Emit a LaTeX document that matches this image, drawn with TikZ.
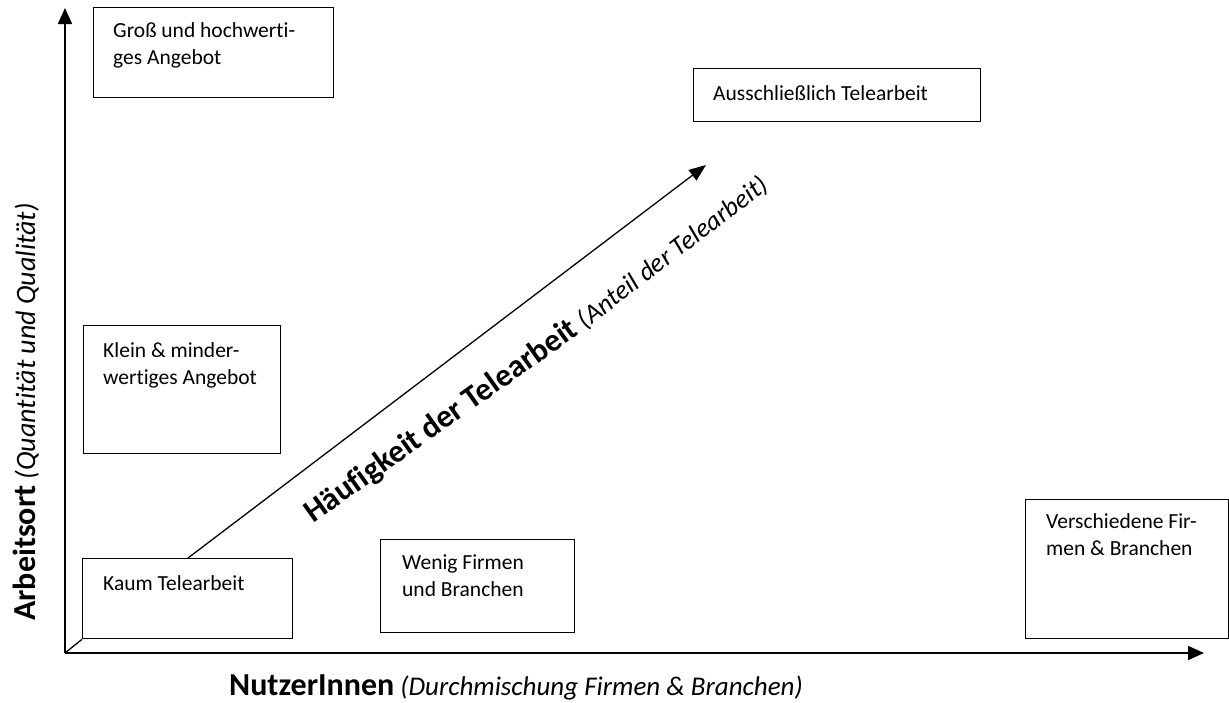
\documentclass[tikz,border=0pt]{standalone}
\usepackage{fontspec}
\setmainfont{Carlito}[Ligatures=CommonOff]
\usetikzlibrary{arrows.meta,calc}
\begin{document}
\begin{tikzpicture}[x=1pt,y=-1pt,
  box/.style={draw=black,line width=1.3pt,rectangle,inner sep=0pt,anchor=north west},
  boxtext/.style={anchor=base west,inner sep=0pt,font=\fontsize{21.5}{27}\selectfont},
  axis/.style={line width=1.8pt,-{Triangle[length=16pt,width=14pt]}},
  diag/.style={line width=1.3pt,-{Triangle[length=17pt,width=13pt]}}]
\useasboundingbox (0,0) rectangle (1229,702);
% boxes
\node[box,minimum width=240pt,minimum height=90pt] (gross) at (93,7) {};
\node[box,minimum width=287pt,minimum height=53pt] (aus) at (693,68) {};
\node[box,minimum width=197pt,minimum height=128pt] (klein) at (83,325) {};
\node[box,minimum width=210pt,minimum height=80pt] (kaum) at (82,558) {};
\node[box,minimum width=194pt,minimum height=93pt] (wenig) at (380,539) {};
\node[box,minimum width=203pt,minimum height=139pt] (versch) at (1025,499) {};
% box texts
\node[boxtext] (tgross) at (113,37) {\begin{tabular}[t]{@{}l@{}}Groß und hochwerti-\\ges Angebot\end{tabular}};
\node[boxtext] (taus) at (713,100) {Ausschließlich Telearbeit};
\node[boxtext] (tklein) at (103,357) {\begin{tabular}[t]{@{}l@{}}Klein \& minder-\\wertiges Angebot\end{tabular}};
\node[boxtext] (tkaum) at (103,590) {Kaum Telearbeit};
\node[boxtext] (twenig) at (402,569) {\begin{tabular}[t]{@{}l@{}}Wenig Firmen\\und Branchen\end{tabular}};
\node[boxtext] (tversch) at (1046,528) {\begin{tabular}[t]{@{}l@{}}Verschiedene Fir-\\men \& Branchen\end{tabular}};
% axes
\coordinate (O) at (65,653);
\coordinate (ytip) at (65,8);
\coordinate (xtip) at (1204,653);
\draw[axis] (O) -- (ytip);
\draw[axis] (O) -- (xtip);
\draw[line width=1.3pt] (O) -- (kaum.south west);
% diagonal
\coordinate (dstart) at (188,558);
\coordinate (dend) at (706,165);
\draw[diag] (dstart) -- (dend);
\node[anchor=base west,inner sep=0pt,rotate=35.5,font=\fontsize{32}{38}\selectfont\bfseries] (hbold) at (313,524) {Häufigkeit der Telearbeit};
\node[anchor=base west,inner sep=0pt,rotate=37.5,font=\fontsize{26.5}{31}\selectfont\itshape] (hit) at ($(hbold.base east)+(-36.5:7)$) {(Anteil der Telearbeit)};
% axis labels
\node[anchor=base,inner sep=0pt] (xlab) at (516,695) {{\fontsize{32}{38}\selectfont\bfseries NutzerInnen}{\fontsize{27}{32}\selectfont\itshape\ (Durchmischung Firmen \& Branchen)}};
\node[anchor=base,inner sep=0pt,rotate=90] (ylab) at (35,412) {{\fontsize{32}{38}\selectfont\bfseries Arbeitsort}{\fontsize{28}{33}\selectfont\itshape\ (Quantität und Qualität)}};
\end{tikzpicture}
\end{document}
